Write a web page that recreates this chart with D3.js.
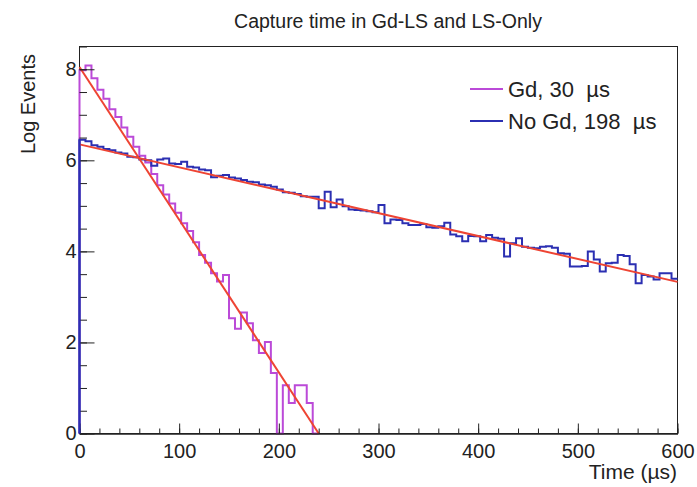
<!DOCTYPE html>
<html>
<head>
<meta charset="utf-8">
<script src="https://cdn.jsdelivr.net/npm/d3@7"></script>
<style>
  body { margin: 0; background: #fff; }
  svg { display: block; font-family: 'Liberation Sans', Arial, Helvetica, sans-serif; }
  .axis text { font-size: 20px; fill: #222; }
  .axis path, .axis line { stroke: #222; }
</style>
</head>
<body>
<script>
// capture time histograms, 6 us bins from 0 to 600 us

const BIN_WIDTH = 6
const T_MAX = 600

const gdValues = [
  7.98, 8.08, 7.80, 7.55, 7.35, 7.12, 6.95, 6.72, 6.52, 6.30,
  6.10, 5.95, 5.70, 5.45, 5.25, 5.05, 4.85, 4.62, 4.45, 4.20,
  3.92, 3.75, 3.52, 3.34, 3.48, 2.53, 2.30, 2.66, 2.42, 2.05,
  1.77, 2.01, 1.33, 0.00, 1.06, 0.67, 1.06, 1.06, 0.67, 0.00
]

const noGdValues = [
  6.45, 6.42, 6.33, 6.30, 6.25, 6.22, 6.17, 6.15, 6.08, 6.07,
  6.02, 6.00, 5.88, 6.02, 6.04, 5.93, 5.92, 5.97, 5.86, 5.84,
  5.80, 5.78, 5.63, 5.66, 5.68, 5.62, 5.60, 5.57, 5.53, 5.52,
  5.47, 5.45, 5.42, 5.36, 5.30, 5.29, 5.26, 5.21, 5.20, 5.20,
  4.95, 5.31, 4.97, 5.14, 4.99, 4.92, 4.91, 4.90, 4.88, 4.86,
  5.02, 4.62, 4.70, 4.69, 4.62, 4.58, 4.58, 4.60, 4.53, 4.52,
  4.55, 4.63, 4.37, 4.33, 4.22, 4.34, 4.33, 4.22, 4.36, 4.30,
  4.28, 3.89, 4.18, 4.29, 4.10, 4.08, 4.07, 4.10, 4.11, 4.08,
  3.96, 3.95, 3.67, 3.67, 3.68, 4.00, 3.82, 3.56, 3.74, 3.75,
  3.92, 3.90, 3.72, 3.30, 3.48, 3.45, 3.38, 3.52, 3.52, 3.40
]

// exponential fits (straight in log scale): [time, log events]
const gdFit = [[0, 8.05], [240, 0]]
const noGdFit = [[0, 6.35], [600, 3.33]]

const legendLabels = ['Gd, 30  \u00b5s', 'No Gd, 198  \u00b5s']

const xMajorTicks = [0, 100, 200, 300, 400, 500, 600]
const yMajorTicks = [0, 2, 4, 6, 8]

const COLORS = { gd: '#bb4ad8', noGd: '#2b2fb2', fit: '#ee4433' }

const W = 697, H = 487

const x = d3.scaleLinear().domain([0, T_MAX]).range([79.5, 677.5])
const y = d3.scaleLinear().domain([0, 8.5]).range([433.5, 46.5])

const svg = d3.select('body').append('svg')
  .attr('width', W)
  .attr('height', H)

// frame
svg.append('rect')
  .attr('x', x(0)).attr('y', y(8.5))
  .attr('width', x(T_MAX) - x(0))
  .attr('height', y(0) - y(8.5))
  .attr('fill', 'none')
  .attr('stroke', '#222')

// histogram outline, ROOT style: rises from zero at the first edge
function histPath(values) {
  let p = d3.path()
  p.moveTo(x(0), y(0))
  values.forEach((v, i) => {
    p.lineTo(x(i * BIN_WIDTH), y(v))
    p.lineTo(x((i + 1) * BIN_WIDTH), y(v))
  })
  return p.toString()
}

svg.append('path')
  .attr('d', histPath(gdValues))
  .attr('fill', 'none')
  .attr('stroke', COLORS.gd)
  .attr('stroke-width', 2)

svg.append('path')
  .attr('d', histPath(noGdValues))
  .attr('fill', 'none')
  .attr('stroke', COLORS.noGd)
  .attr('stroke-width', 2)

let line = d3.line().x((d) => x(d[0])).y((d) => y(d[1]))

;[gdFit, noGdFit].forEach((f) => {
  svg.append('path')
    .attr('d', line(f))
    .attr('fill', 'none')
    .attr('stroke', COLORS.fit)
    .attr('stroke-width', 2)
})

// axes: ticks point into the frame
let xMinor = svg.append('g')
  .attr('class', 'axis')
  .attr('transform', 'translate(0,' + y(0) + ')')
  .call(d3.axisBottom(x).tickValues(d3.range(0, T_MAX + 1, 20)).tickSize(-5).tickSizeOuter(0).tickFormat(''))
xMinor.select('.domain').remove()

let xAxis = svg.append('g')
  .attr('class', 'axis')
  .attr('transform', 'translate(0,' + y(0) + ')')
  .call(d3.axisBottom(x).tickValues(xMajorTicks).tickSize(-10).tickSizeOuter(0))
xAxis.select('.domain')
  .attr('stroke-width', 1.5)
xAxis.selectAll('text')
  .attr('y', 10)
  .attr('dy', '0.71em')

let yMinor = svg.append('g')
  .attr('class', 'axis')
  .attr('transform', 'translate(' + x(0) + ',0)')
  .call(d3.axisLeft(y).tickValues(d3.range(0, 8.51, 0.5)).tickSize(-7.5).tickSizeOuter(0).tickFormat(''))
yMinor.select('.domain').remove()

let yAxis = svg.append('g')
  .attr('class', 'axis')
  .attr('transform', 'translate(' + x(0) + ',0)')
  .call(d3.axisLeft(y).tickValues(yMajorTicks).tickSize(-15).tickSizeOuter(0))
yAxis.select('.domain').remove()
yAxis.selectAll('text')
  .attr('x', -3)

// the blue histogram covers the left axis line, as in ROOT
svg.append('path')
  .attr('d', 'M' + x(0) + ',' + y(0) + 'V' + y(noGdValues[0]))
  .attr('stroke', COLORS.noGd)
  .attr('stroke-width', 2)

// titles
svg.append('text')
  .attr('x', 388).attr('y', 28)
  .attr('text-anchor', 'middle')
  .attr('font-size', 19.5)
  .attr('fill', '#222')
  .text('Capture time in Gd-LS and LS-Only')

svg.append('text')
  .attr('x', 677).attr('y', 479)
  .attr('text-anchor', 'end')
  .attr('font-size', 21)
  .attr('fill', '#222')
  .text('Time (\u00b5s)')

svg.append('text')
  .attr('transform', 'translate(35,54) rotate(-90)')
  .attr('text-anchor', 'end')
  .attr('font-size', 20)
  .attr('fill', '#222')
  .text('Log Events')

// legend
let legend = svg.append('g')
  .selectAll('g')
  .data([COLORS.gd, COLORS.noGd])
  .enter().append('g')
    .attr('transform', (d, i) => 'translate(470,' + (89 + i * 32) + ')')

legend.append('line')
  .attr('x1', 0).attr('x2', 33)
  .attr('stroke', (d) => d)
  .attr('stroke-width', 2)

legend.append('text')
  .attr('x', 38)
  .attr('dy', '0.35em')
  .attr('font-size', 22)
  .attr('fill', '#222')
  .style('white-space', 'pre')
  .text((d, i) => legendLabels[i])
</script>
</body>
</html>
